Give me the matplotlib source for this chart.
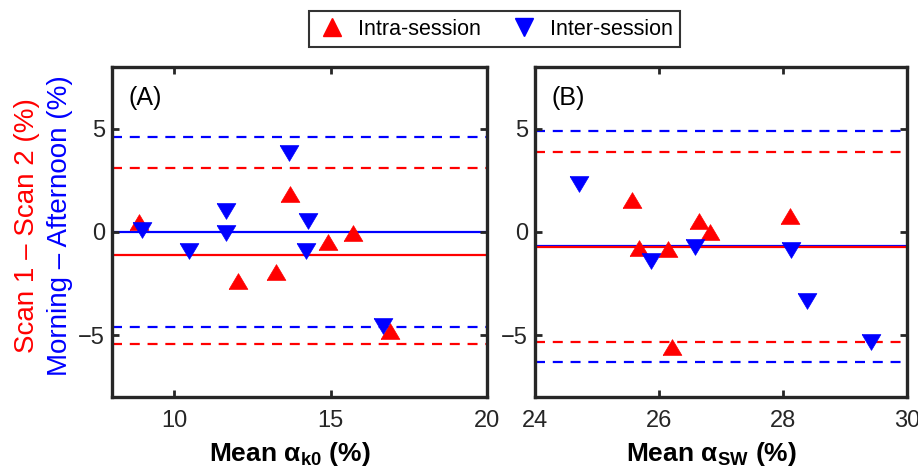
import matplotlib
matplotlib.use("Agg")
import matplotlib.pyplot as plt

plt.rcParams['font.family'] = ['Liberation Sans', 'DejaVu Sans']
plt.rcParams['mathtext.fontset'] = 'custom'
plt.rcParams['mathtext.rm'] = 'Liberation Sans'
plt.rcParams['mathtext.bf'] = 'Liberation Sans:bold'

# Panel A (alpha_k0)
a_intra_x = [8.88, 13.70, 12.03, 13.25, 14.90, 15.70, 16.89]
a_intra_y = [0.49, 1.82, -2.39, -1.95, -0.47, -0.03, -4.78]
a_inter_x = [8.95, 10.45, 11.64, 11.64, 13.66, 14.26, 14.20, 16.68]
a_inter_y = [0.10, -0.91, 1.02, -0.07, 3.85, 0.55, -0.94, -4.57]
a_intra_lines = [-1.14, 3.12, -5.45]   # mean, upper LoA, lower LoA
a_inter_lines = [0.02, 4.60, -4.60]

# Panel B (alpha_SW)
b_intra_x = [25.56, 25.67, 26.14, 26.65, 26.83, 28.11, 26.21]
b_intra_y = [1.56, -0.78, -0.83, 0.55, -0.02, 0.78, -5.56]
b_inter_x = [24.71, 25.87, 26.58, 28.13, 28.38, 29.42]
b_inter_y = [2.31, -1.43, -0.75, -0.88, -3.35, -5.32]
b_intra_lines = [-0.73, 3.87, -5.32]
b_inter_lines = [-0.70, 4.88, -6.29]

RED = '#ff0000'
BLUE = '#0000ff'
TRI_UP = [(-1, -0.84), (1, -0.84), (0, 0.84), (-1, -0.84)]
TRI_DN = [(-1, 0.84), (1, 0.84), (0, -0.84), (-1, 0.84)]
MS = 13.5

fig = plt.figure(figsize=(9.18, 4.71), dpi=100)
axA = fig.add_axes([0.122, 0.157, 0.4085, 0.701])
axB = fig.add_axes([0.5828, 0.157, 0.4052, 0.701])


def panel(ax, ix, iy, ex, ey, ilines, elines, xlim, xticks, xlabel, tag):
    dash = (0, (4.5, 3.5))
    ax.axhline(elines[0], color=BLUE, lw=1.6, zorder=1)
    ax.axhline(ilines[0], color=RED, lw=1.6, zorder=1.1)
    for v in elines[1:]:
        ax.axhline(v, color=BLUE, lw=1.6, ls=dash, zorder=1)
    for v in ilines[1:]:
        ax.axhline(v, color=RED, lw=1.6, ls=dash, zorder=1)
    ax.plot(ix, iy, ls='none', marker=TRI_UP, ms=MS, color=RED,
            mec=RED, mew=0.5, zorder=3)
    ax.plot(ex, ey, ls='none', marker=TRI_DN, ms=MS, color=BLUE,
            mec=BLUE, mew=0.5, zorder=3)
    ax.set_xlim(xlim)
    ax.set_ylim(-8, 8)
    ax.set_xticks(xticks)
    ax.set_yticks([-5, 0, 5])
    ax.tick_params(direction='in', length=5, width=2, top=True, right=True,
                   labelsize=17, colors='#262626')
    ax.tick_params(axis='x', pad=9)
    ax.tick_params(axis='y', pad=5)
    for s in ax.spines.values():
        s.set_linewidth(2.4)
        s.set_color('#262626')
    ax.set_xlabel(xlabel, fontsize=19, fontweight='bold', labelpad=6)
    ax.xaxis.label.set_x(0.475)
    ax.text(0.043, 0.906, tag, transform=ax.transAxes, fontsize=18,
            ha='left', va='center', color='black')


panel(axA, a_intra_x, a_intra_y, a_inter_x, a_inter_y,
      a_intra_lines, a_inter_lines, (8, 20), [10, 15, 20],
      r'Mean α$_{\mathbf{k0}}$ (%)', '(A)')
panel(axB, b_intra_x, b_intra_y, b_inter_x, b_inter_y,
      b_intra_lines, b_inter_lines, (24, 30), [24, 26, 28, 30],
      r'Mean α$_{\mathbf{SW}}$ (%)', '(B)')

# two-coloured y label
fig.text(0.0294, 0.522, 'Scan 1 \u2013 Scan 2 (%)', rotation=90, color=RED,
         fontsize=20, ha='center', va='center')
fig.text(0.065, 0.522, 'Morning \u2013 Afternoon (%)', rotation=90, color=BLUE,
         fontsize=20, ha='center', va='center')

# legend
h1, = axA.plot([], [], ls='none', marker='^', ms=13, color=RED)
h2, = axA.plot([], [], ls='none', marker='v', ms=13, color=BLUE)
leg = fig.legend([h1, h2], ['Intra-session', 'Inter-session'], ncol=2,
                 loc='center', bbox_to_anchor=(0.539, 0.938), fontsize=15.5,
                 frameon=True, fancybox=False, edgecolor='black',
                 handletextpad=0.5, columnspacing=1.3, borderpad=0.35,
                 handlelength=1.4)
leg.get_frame().set_linewidth(1.5)

fig.savefig('out.png', dpi=100)
